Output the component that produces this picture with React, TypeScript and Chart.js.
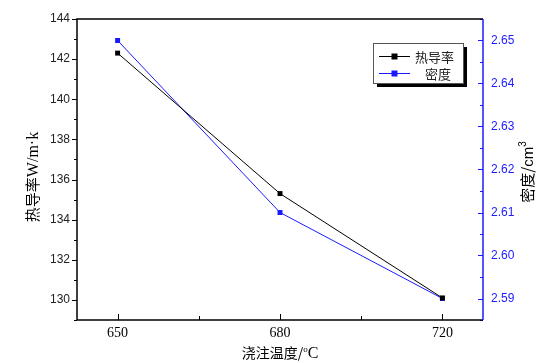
import React, { useEffect, useRef } from "react";
import { Chart, registerables } from "chart.js";

Chart.register(...registerables);

const categories = ["650", "680", "720"];
const conductivity = [142.3, 135.3, 130.1];
const density = [2.65, 2.61, 2.59];
const leftTicks = [130, 132, 134, 136, 138, 140, 142, 144];
const rightTicks = [2.59, 2.6, 2.61, 2.62, 2.63, 2.64, 2.65];
const seriesNames = ["热导率", "密度"];

const BLUE = "#1a1aff";
const CJK = '"Noto Sans CJK SC", sans-serif';
const SERIF = '"Liberation Serif", "Times New Roman", serif';
const SANS = '"Liberation Sans", Arial, sans-serif';

type Part = { t: string; f: string; dy?: number };

function drawParts(ctx: CanvasRenderingContext2D, parts: Part[], cx: number, cy: number) {
  let total = 0;
  parts.forEach((p) => {
    ctx.font = p.f;
    total += ctx.measureText(p.t).width;
  });
  let x = cx - total / 2;
  ctx.textAlign = "left";
  ctx.textBaseline = "alphabetic";
  parts.forEach((p) => {
    ctx.font = p.f;
    ctx.fillText(p.t, x, cy + (p.dy || 0));
    x += ctx.measureText(p.t).width;
  });
}

const axesPlugin = {
  id: "customAxes",
  afterDraw(chart: any) {
    const { ctx, chartArea, scales } = chart;
    const { left, right, top, bottom } = chartArea;
    ctx.save();

    // left axis ticks (outward)
    ctx.strokeStyle = "#000";
    ctx.lineWidth = 1;
    for (let v = 129; v <= 144; v += 1) {
      const y = Math.round(scales.y.getPixelForValue(v)) + 0.5;
      const len = v % 2 === 0 ? 5 : 3;
      ctx.beginPath();
      ctx.moveTo(left, y);
      ctx.lineTo(left - len, y);
      ctx.stroke();
    }
    ctx.fillStyle = "#222";
    ctx.font = "12px " + SANS;
    ctx.textAlign = "right";
    ctx.textBaseline = "middle";
    leftTicks.forEach((v) => {
      ctx.fillText(String(v), left - 7, scales.y.getPixelForValue(v));
    });

    // right axis ticks (inward), blue
    ctx.strokeStyle = BLUE;
    for (let i = 0; i <= 14; i++) {
      const v = 2.585 + i * 0.005;
      const y = Math.round(scales.y1.getPixelForValue(v)) + 0.5;
      const len = i % 2 === 1 ? 5 : 3;
      ctx.beginPath();
      ctx.moveTo(right, y);
      ctx.lineTo(right - len, y);
      ctx.stroke();
    }
    ctx.fillStyle = BLUE;
    ctx.textAlign = "left";
    rightTicks.forEach((v) => {
      ctx.fillText(v.toFixed(2), right + 8, scales.y1.getPixelForValue(v));
    });

    // bottom ticks (inward)
    ctx.strokeStyle = "#000";
    for (let i = 0; i <= 4; i++) {
      const xv = i * 0.5;
      const x = Math.round(scales.x.getPixelForValue(xv)) + 0.5;
      const len = i % 2 === 0 ? 6 : 4;
      ctx.beginPath();
      ctx.moveTo(x, bottom);
      ctx.lineTo(x, bottom - len);
      ctx.stroke();
    }
    ctx.fillStyle = "#000";
    ctx.font = "14px " + SERIF;
    ctx.textAlign = "center";
    ctx.textBaseline = "middle";
    categories.forEach((c, i) => {
      ctx.fillText(c, scales.x.getPixelForValue(i), bottom + 13);
    });

    // frame
    ctx.lineWidth = 1.5;
    ctx.strokeStyle = "#000";
    ctx.beginPath();
    ctx.moveTo(right, top);
    ctx.lineTo(left, top);
    ctx.lineTo(left, bottom);
    ctx.lineTo(right, bottom);
    ctx.stroke();
    ctx.strokeStyle = BLUE;
    ctx.beginPath();
    ctx.moveTo(right, top);
    ctx.lineTo(right, bottom);
    ctx.stroke();

    // axis titles
    ctx.fillStyle = "#000";
    drawParts(
      ctx,
      [
        { t: "浇注温度/", f: "14px " + CJK },
        { t: "o", f: "9px " + SERIF, dy: -6 },
        { t: "C", f: "16px " + SERIF },
      ],
      280,
      358
    );

    ctx.save();
    ctx.translate(38, 177);
    ctx.rotate(-Math.PI / 2);
    drawParts(
      ctx,
      [
        { t: "热导率", f: "15px " + CJK },
        { t: "W/m·k", f: "16px " + SERIF },
      ],
      0,
      0
    );
    ctx.restore();

    ctx.save();
    ctx.translate(533, 172);
    ctx.rotate(-Math.PI / 2);
    drawParts(
      ctx,
      [
        { t: "密度/", f: "15px " + CJK },
        { t: "cm", f: "15px " + SANS },
        { t: "3", f: "10px " + SANS, dy: -7 },
      ],
      0,
      0
    );
    ctx.restore();

    // legend
    const lx = 373, ly = 43, lw = 90, lh = 40;
    ctx.fillStyle = "#000";
    ctx.fillRect(lx + 4, ly + 4, lw, lh);
    ctx.fillStyle = "#fff";
    ctx.fillRect(lx, ly, lw, lh);
    ctx.strokeStyle = "#555";
    ctx.lineWidth = 1;
    ctx.strokeRect(lx + 0.5, ly + 0.5, lw, lh);
    const colors = ["#000", BLUE];
    ctx.font = "13px " + CJK;
    ctx.textAlign = "left";
    ctx.textBaseline = "middle";
    seriesNames.forEach((name, i) => {
      const y = ly + 13 + i * 17;
      ctx.strokeStyle = colors[i];
      ctx.beginPath();
      ctx.moveTo(lx + 6, y + 0.5);
      ctx.lineTo(lx + 37, y + 0.5);
      ctx.stroke();
      ctx.fillStyle = colors[i];
      ctx.fillRect(lx + 18.5, y - 2.5, 6, 6);
      ctx.fillStyle = "#222";
      ctx.fillText(name, i === 0 ? lx + 42 : lx + 52, y + 1);
    });

    ctx.restore();
  },
};

export default function App() {
  const ref = useRef<HTMLCanvasElement>(null);
  useEffect(() => {
    const chart = new Chart(ref.current!, {
      type: "line",
      data: {
        datasets: [
          {
            label: seriesNames[0],
            data: conductivity.map((y, i) => ({ x: i, y })),
            borderColor: "#000",
            backgroundColor: "#000",
            borderWidth: 1,
            pointStyle: "rect",
            pointRadius: 3.5,
            pointBorderWidth: 0,
            yAxisID: "y",
          },
          {
            label: seriesNames[1],
            data: density.map((y, i) => ({ x: i, y })),
            borderColor: BLUE,
            backgroundColor: BLUE,
            borderWidth: 1,
            pointStyle: "rect",
            pointRadius: 3.5,
            pointBorderWidth: 0,
            yAxisID: "y1",
          },
        ],
      },
      options: {
        responsive: false,
        animation: false,
        layout: { padding: { left: 77, right: 64, top: 19, bottom: 43 } },
        plugins: { legend: { display: false }, tooltip: { enabled: false } },
        scales: {
          x: { type: "linear", display: false, min: -0.25, max: 2.25 },
          y: { display: false, min: 129, max: 144 },
          y1: { display: false, position: "right", min: 2.585, max: 2.655 },
        },
      },
      plugins: [axesPlugin],
    } as any);
    return () => chart.destroy();
  }, []);
  return (
    <div style={{ position: "fixed", left: 0, top: 0, width: 547, height: 363, background: "#fff" }}>
      <canvas ref={ref} width={547} height={363} />
    </div>
  );
}
